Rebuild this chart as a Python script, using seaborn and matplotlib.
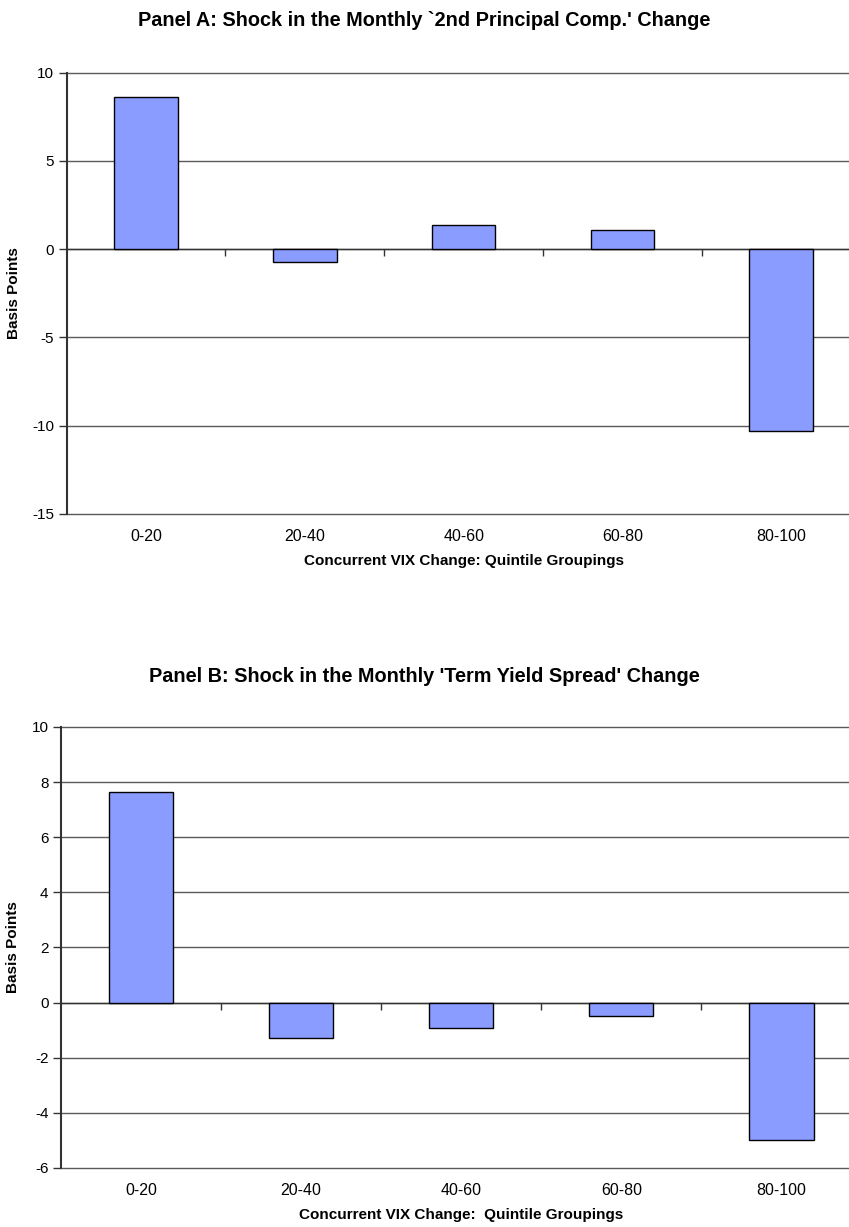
import numpy as np
import seaborn as sns
import matplotlib.pyplot as plt

sns.set_style("white")
plt.rcParams["font.family"] = ["Liberation Sans", "DejaVu Sans"]
plt.rcParams["axes.unicode_minus"] = False
plt.rcParams["text.color"] = "black"
plt.rcParams["axes.labelcolor"] = "black"
plt.rcParams["xtick.color"] = "black"
plt.rcParams["ytick.color"] = "black"

# Quintile groups of the concurrent VIX change
quintiles = ["0-20", "20-40", "40-60", "60-80", "80-100"]

# Panel A: 2nd principal component shock (basis points)
pc2_shock = [8.64, -0.74, 1.35, 1.06, -10.3]
# Panel B: term yield spread shock (basis points)
term_shock = [7.63, -1.28, -0.92, -0.47, -4.98]

titles = ["Panel A: Shock in the Monthly `2nd Principal Comp.' Change",
          "Panel B: Shock in the Monthly 'Term Yield Spread' Change"]
xlabels = ["Concurrent VIX Change: Quintile Groupings",
           "Concurrent VIX Change:  Quintile Groupings"]
ylims = [(-15, 10), (-6, 10)]
ysteps = [5, 2]

bar_color = "#8a9cff"
grid_color = "#5a5a5a"

fig = plt.figure(figsize=(8.49, 12.27), dpi=100)
ax_a = fig.add_axes([0.0786, 0.5811, 0.935, 0.3597])
ax_b = fig.add_axes([0.0718, 0.0481, 0.9430, 0.3594])
title_y = [1 - 20 / 1227, 1 - 677 / 1227]

for ax, vals, title, xlab, ylim, step, ty in zip(
        [ax_a, ax_b], [pc2_shock, term_shock], titles, xlabels, ylims, ysteps, title_y):
    sns.barplot(x=quintiles, y=vals, color=bar_color, saturation=1,
                edgecolor="black", linewidth=1, width=0.4, ax=ax, zorder=3)
    ax.set_xlim(-0.5, len(quintiles) - 0.5)
    ax.set_ylim(*ylim)
    ax.set_yticks(np.arange(ylim[0], ylim[1] + step, step))
    ax.tick_params(axis="y", direction="out", length=6, width=1, color="#333333",
                   labelsize=11, pad=3, left=True)
    ax.yaxis.grid(True, color=grid_color, linewidth=1)
    for gl in ax.get_ygridlines():
        gl.set_clip_on(False)
    ax.set_axisbelow(True)

    # zero line with boundary ticks between categories
    for s in ["top", "right"]:
        ax.spines[s].set_visible(False)
    ax.spines["bottom"].set_position(("data", 0))
    ax.spines["bottom"].set_color("#333333")
    ax.spines["bottom"].set_linewidth(1)
    ax.spines["left"].set_color("#333333")
    ax.spines["left"].set_linewidth(1.5)
    ax.set_xticks(np.arange(0.5, len(quintiles) - 0.5, 1.0))
    ax.set_xticklabels([])
    ax.tick_params(axis="x", direction="out", length=5, width=1, color="#333333", bottom=True)
    ax.set_xlabel("")

    # category labels along the bottom of the plot area
    sec = ax.secondary_xaxis("bottom")
    sec.set_xticks(range(len(quintiles)), labels=quintiles)
    sec.tick_params(length=0, labelsize=11.5, pad=11)
    sec.spines["bottom"].set_visible(False)
    sec.set_xlabel(xlab, fontsize=11, fontweight="bold", labelpad=7)

    ax.set_ylabel("Basis Points", fontsize=11, fontweight="bold", labelpad=8)
    fig.text(0.5, ty, title, ha="center", va="center", fontsize=14.3, fontweight="bold")

fig.savefig("out.png", dpi=100)
